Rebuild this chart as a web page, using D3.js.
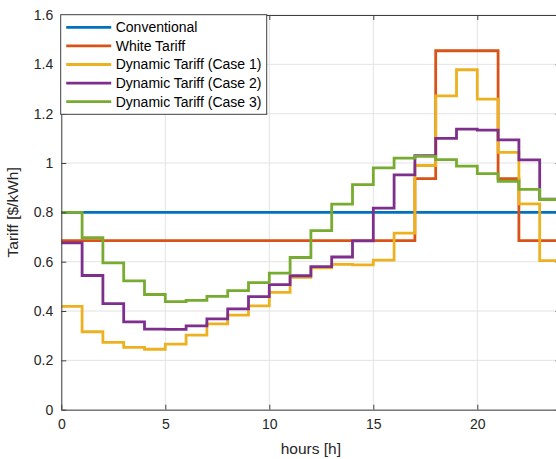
<!DOCTYPE html>
<html>
<head>
<meta charset="utf-8">
<script src="https://cdn.jsdelivr.net/npm/d3@7"></script>
<style>
    body { margin: 0; background: #fff; }
    svg { display: block; font-family: "Liberation Sans", Arial, sans-serif; }
</style>
</head>
<body>
<div id="chart"></div>
<script>
// hourly tariff values, one per hour starting at 0h
var hours = [0, 1, 2, 3, 4, 5, 6, 7, 8, 9, 10, 11, 12, 13, 14, 15, 16, 17, 18, 19, 20, 21, 22, 23];
var conventional = [0.8, 0.8, 0.8, 0.8, 0.8, 0.8, 0.8, 0.8, 0.8, 0.8, 0.8, 0.8,
                    0.8, 0.8, 0.8, 0.8, 0.8, 0.8, 0.8, 0.8, 0.8, 0.8, 0.8, 0.8];
var whiteTariff = [0.685, 0.685, 0.685, 0.685, 0.685, 0.685, 0.685, 0.685, 0.685, 0.685, 0.685, 0.685,
                   0.685, 0.685, 0.685, 0.685, 0.685, 0.937, 1.455, 1.455, 1.455, 0.937, 0.685, 0.685];
var dynCase1 = [0.419, 0.316, 0.273, 0.253, 0.245, 0.266, 0.302, 0.348, 0.383, 0.421, 0.476, 0.537,
                0.575, 0.589, 0.587, 0.606, 0.716, 0.99, 1.272, 1.378, 1.259, 1.043, 0.834, 0.604];
var dynCase2 = [0.676, 0.544, 0.43, 0.356, 0.327, 0.326, 0.34, 0.368, 0.409, 0.458, 0.507, 0.543,
                0.58, 0.619, 0.684, 0.817, 0.952, 1.03, 1.10, 1.137, 1.133, 1.094, 1.013, 0.854];
var dynCase3 = [0.80, 0.697, 0.595, 0.522, 0.467, 0.438, 0.443, 0.459, 0.483, 0.515, 0.554, 0.617,
                0.726, 0.833, 0.912, 0.98, 1.02, 1.027, 1.014, 0.987, 0.957, 0.926, 0.893, 0.852];

var seriesNames = ["Conventional", "White Tariff", "Dynamic Tariff (Case 1)",
                   "Dynamic Tariff (Case 2)", "Dynamic Tariff (Case 3)"];
var seriesColors = ["#0072BD", "#D95319", "#EDB120", "#7E2F8E", "#77AC30"];
var xTicks = [0, 5, 10, 15, 20];
var yTicks = [0, 0.2, 0.4, 0.6, 0.8, 1, 1.2, 1.4, 1.6];

var W = 556, H = 459;
var margin = { top: 15, right: -4.5, bottom: 49.3, left: 61.3 };
var width = W - margin.left - margin.right,
    height = H - margin.top - margin.bottom;

var svg = d3.select("#chart").append("svg")
    .attr("width", W)
    .attr("height", H);

var g = svg.append("g")
    .attr("transform", "translate(" + margin.left + "," + margin.top + ")");

var x = d3.scaleLinear().domain([0, 24]).range([0, width]);
var y = d3.scaleLinear().domain([0, 1.6]).range([height, 0]);

// grid
g.append("g").selectAll("line.vg").data(xTicks.concat([24]))
    .enter().append("line")
    .attr("x1", function(d) { return x(d); })
    .attr("x2", function(d) { return x(d); })
    .attr("y1", 0).attr("y2", height)
    .attr("stroke", "#e3e3e3").attr("stroke-width", 1);
g.append("g").selectAll("line.hg").data(yTicks)
    .enter().append("line")
    .attr("x1", 0).attr("x2", width)
    .attr("y1", function(d) { return y(d); })
    .attr("y2", function(d) { return y(d); })
    .attr("stroke", "#e3e3e3").attr("stroke-width", 1);

// step lines
var series = [conventional, whiteTariff, dynCase1, dynCase2, dynCase3];
var line = d3.line()
    .x(function(d) { return x(d.h); })
    .y(function(d) { return y(d.v); })
    .curve(d3.curveStepAfter);

series.forEach(function(vals, i) {
    var pts = hours.map(function(h, j) { return { h: h, v: vals[j] }; });
    pts.push({ h: 24, v: vals[vals.length - 1] });
    g.append("path")
        .datum(pts)
        .attr("fill", "none")
        .attr("stroke", seriesColors[i])
        .attr("stroke-width", 2.8)
        .attr("d", line);
});

// axes (ticks inward, box on)
var xAxis = d3.axisBottom(x).tickValues(xTicks).tickSizeInner(-5).tickSizeOuter(0).tickPadding(9);
var yAxis = d3.axisLeft(y).tickValues(yTicks).tickFormat(d3.format("")).tickSizeInner(-5).tickSizeOuter(0).tickPadding(8);

var gx = g.append("g").attr("transform", "translate(0," + height + ")").call(xAxis);
var gy = g.append("g").call(yAxis);
var gx2 = g.append("g").call(d3.axisTop(x).tickValues(xTicks).tickSizeInner(-5).tickSizeOuter(0).tickFormat(""));
var gy2 = g.append("g").attr("transform", "translate(" + width + ",0)")
    .call(d3.axisRight(y).tickValues(yTicks).tickSizeInner(-5).tickSizeOuter(0).tickFormat(""));

[gx, gy, gx2, gy2].forEach(function(a) {
    a.select(".domain").attr("stroke", "#404040").attr("stroke-width", 1);
    a.selectAll(".tick line").attr("stroke", "#404040");
    a.selectAll("text").attr("fill", "#262626").style("font-size", "14px")
        .style("font-family", "'Liberation Sans', Arial, sans-serif");
});

// axis labels
g.append("text")
    .attr("x", width / 2).attr("y", height + 44)
    .attr("text-anchor", "middle")
    .attr("fill", "#262626")
    .style("font-size", "15.5px")
    .text("hours [h]");

g.append("text")
    .attr("transform", "translate(" + (-43) + "," + (height / 2) + ") rotate(-90)")
    .attr("text-anchor", "middle")
    .attr("fill", "#262626")
    .style("font-size", "15.5px")
    .text("Tariff [$/kWh]");

// legend, north-west corner
var legend = g.append("g").attr("transform", "translate(-0.6,-0.3)");
legend.append("rect")
    .attr("width", 206).attr("height", 99.6)
    .attr("fill", "#fff").attr("stroke", "#404040").attr("stroke-width", 1);

var rows = legend.selectAll("g.row").data(seriesNames)
    .enter().append("g")
    .attr("transform", function(d, i) { return "translate(0," + (12.6 + i * 18.6) + ")"; });
rows.append("line")
    .attr("x1", 5.5).attr("x2", 50.5)
    .attr("stroke", function(d, i) { return seriesColors[i]; })
    .attr("stroke-width", 2.8);
rows.append("text")
    .attr("x", 55)
    .attr("dy", "0.35em")
    .attr("fill", "#000")
    .style("font-size", "14px")
    .text(function(d) { return d; });
</script>
</body>
</html>
